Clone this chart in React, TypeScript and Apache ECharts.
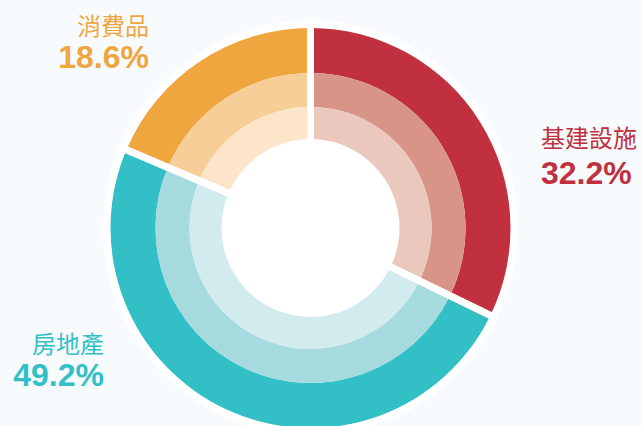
import React, { useEffect, useRef } from "react";
import * as echarts from "echarts";

const categories = ["基建設施", "房地產", "消費品"];
const shares = [32.2, 49.2, 18.6];
const outerColors = ["#c0303f", "#33bfc6", "#f0a63e"];
const middleColors = ["#d99488", "#a5dade", "#f7cd98"];
const innerColors = ["#ebc8be", "#d2ebee", "#fce5c8"];

const CX = 310.5;
const CY = 228;

export default function App() {
  const ref = useRef<HTMLDivElement>(null);
  useEffect(() => {
    if (!ref.current) return;
    const chart = echarts.init(ref.current, undefined, { renderer: "svg" });
    const ring = (radius: [number, number], colors: string[]) => ({
      type: "pie",
      center: [CX, CY],
      radius,
      startAngle: 90,
      clockwise: true,
      silent: true,
      label: { show: false },
      labelLine: { show: false },
      emphasis: { disabled: true },
      data: categories.map((c, i) => ({
        name: c,
        value: shares[i],
        itemStyle: { color: colors[i] },
      })),
    });
    const labelPos = [
      { x: 541, yName: 136.5, yVal: 173, align: "left" },
      { x: 104, yName: 342, yVal: 375, align: "right" },
      { x: 149, yName: 24, yVal: 57, align: "right" },
    ];
    const graphics: any[] = [];
    categories.forEach((c, i) => {
      const p = labelPos[i];
      graphics.push({
        type: "text",
        x: p.x,
        y: p.yName,
        style: {
          text: c,
          fill: outerColors[i],
          font: '24px "Noto Sans CJK TC", sans-serif',
          textAlign: p.align,
          textVerticalAlign: "middle",
        },
      });
      graphics.push({
        type: "text",
        x: p.x,
        y: p.yVal,
        style: {
          text: shares[i].toFixed(1) + "%",
          fill: outerColors[i],
          font: 'bold 32px "Liberation Sans", Arial, sans-serif',
          textAlign: p.align,
          textVerticalAlign: "middle",
        },
      });
    });
    chart.setOption({
      animation: false,
      backgroundColor: "#f8fbfd",
      series: [
        {
          type: "pie",
          center: [CX, CY],
          radius: [0, 207],
          silent: true,
          label: { show: false },
          labelLine: { show: false },
          emphasis: { disabled: true },
          data: [{ value: 1, itemStyle: { color: "#ffffff" } }],
        },
        ring([155, 200], outerColors),
        ring([121, 155], middleColors),
        ring([89, 121], innerColors),
        {
          type: "pie",
          center: [CX, CY],
          radius: [80, 204],
          startAngle: 90,
          clockwise: true,
          silent: true,
          label: { show: false },
          labelLine: { show: false },
          emphasis: { disabled: true },
          data: categories.map((c, i) => ({
            name: c,
            value: shares[i],
            itemStyle: {
              color: "rgba(0,0,0,0)",
              borderColor: "#ffffff",
              borderWidth: 7,
              borderJoin: "round",
            },
          })),
        },
      ],
      graphic: graphics,
    });
    return () => chart.dispose();
  }, []);
  return (
    <div
      ref={ref}
      style={{ position: "fixed", left: 0, top: 0, width: 643, height: 426 }}
    />
  );
}
